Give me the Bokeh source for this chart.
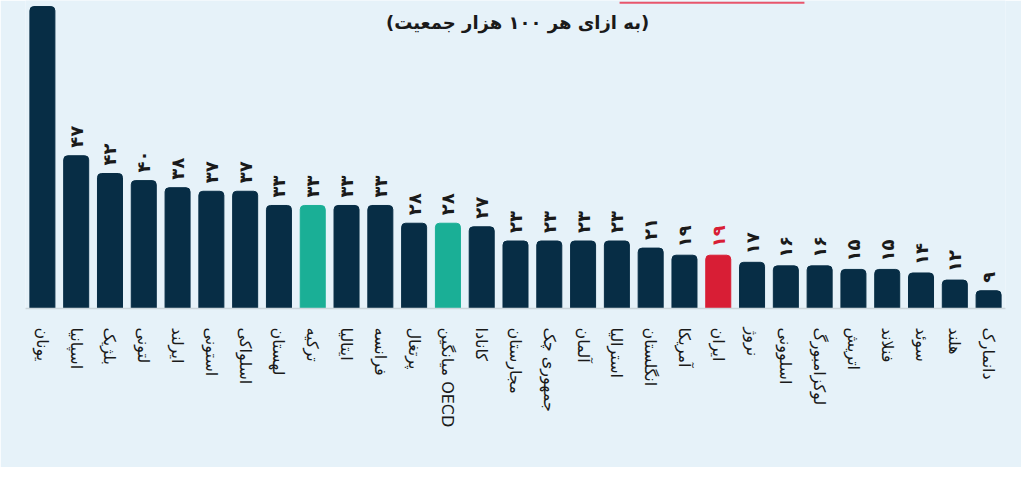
import math
from bokeh.plotting import figure
from bokeh.models import FactorRange, Label, ColumnDataSource
from bokeh.core.properties import value
from bokeh.embed import file_html
from bokeh.resources import INLINE

countries = ["یونان", "اسپانیا", "بلژیک", "لتونی", "ایرلند", "استونی", "اسلواکی",
             "لهستان", "ترکیه", "ایتالیا", "فرانسه", "پرتغال", "میانگین OECD", "کانادا",
             "مجارستان", "جمهوری چک", "آلمان", "استرالیا", "انگلستان", "آمریکا", "ایران",
             "نروژ", "اسلوونی", "لوکزامبورگ", "اتریش", "فنلاند", "سوئد", "هلند", "دانمارک"]
values = [89, 47, 42, 40, 38, 37, 37, 33, 33, 33, 33, 28, 28, 27, 23, 23, 23, 23, 21,
          19, 19, 17, 16, 16, 15, 15, 14, 12, 9]
teal_items = ["ترکیه", "میانگین OECD"]
red_items = ["ایران"]
title_text = "(به ازای هر ۱۰۰ هزار جمعیت)"

NAVY = "#072D45"
TEAL = "#1AAF96"
RED = "#D81E35"
BG = "#E6F2F9"

fa_digits = str.maketrans("0123456789", "۰۱۲۳۴۵۶۷۸۹")
labels = [str(v).translate(fa_digits) for v in values]
colors = [TEAL if c in teal_items else RED if c in red_items else NAVY for c in countries]
label_colors = [RED if c in red_items else "#1a1a1a" for c in countries]

src = ColumnDataSource(dict(x=countries, top=values, color=colors, lab=labels, lc=label_colors))

Y0, Y1 = 4.0, 90.7
p = figure(x_range=FactorRange(factors=countries), y_range=(Y0, Y1),
           width=1021, height=467, output_backend="svg", toolbar_location=None,
           min_border_left=25, min_border_right=16, min_border_top=0, min_border_bottom=159)
p.background_fill_color = BG
p.border_fill_color = BG
p.outline_line_color = None

p.vbar(x="x", top="top", bottom=0, width=0.74, color="color", source=src,
       border_radius=(4, 4, 0, 0))

p.text(x="x", y="top", text="lab", text_color="lc", angle=math.pi / 2,
       text_align="left", text_baseline="middle", y_offset=-8, source=src,
       text_font=value("DejaVu Sans"), text_font_size="18px", text_font_style="bold")

p.xgrid.visible = False
p.ygrid.visible = False
p.yaxis.visible = False
p.xaxis.axis_line_color = "#cbd5db"
p.xaxis.axis_line_width = 1.5
p.xaxis.major_tick_line_color = None
p.xaxis.minor_tick_line_color = None
p.xaxis.major_label_orientation = "vertical"
p.xaxis.major_label_standoff = 13
p.xaxis.major_label_text_font = "DejaVu Sans"
p.xaxis.major_label_text_font_size = "16px"
p.xaxis.major_label_text_color = "#1a1a1a"

p.add_layout(Label(x=14.56, y=84.5, text=title_text, text_align="center",
                   text_baseline="middle", text_font="DejaVu Sans",
                   text_font_size="18px", text_font_style="bold", text_color="#1a1a1a"))

p.segment(x0=[17.58], y0=[90.1], x1=[23.05], y1=[90.1], line_color="#E8566C", line_width=2)

open("out.html", "w").write(file_html(p, INLINE))
